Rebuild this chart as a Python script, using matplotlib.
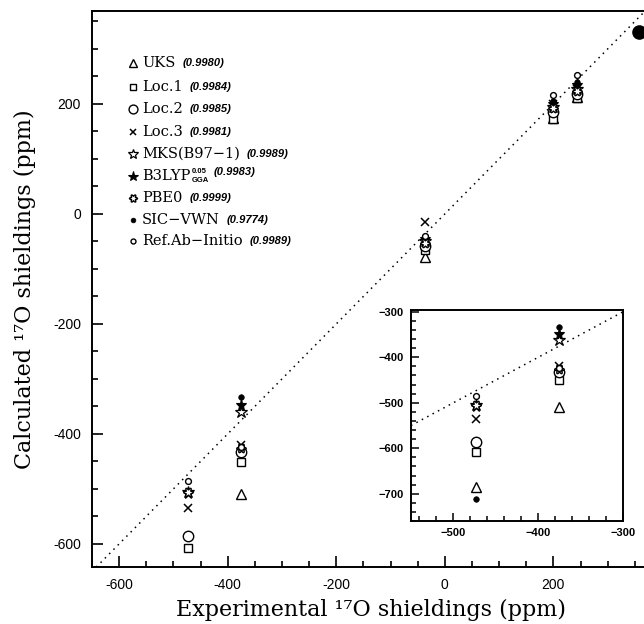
#!/usr/bin/env python3
"""Calculated vs experimental 17O shieldings, with inset of the low-field clusters."""

import matplotlib
matplotlib.use("Agg")
import matplotlib.pyplot as plt
import numpy as np
from matplotlib.path import Path
from matplotlib.ticker import FuncFormatter, MultipleLocator

# experimental shieldings (ppm), one per compound
exp_shift = [-473, -375, -37, 200, 243]

series_names = ["UKS", "Loc.1", "Loc.2", "Loc.3", "MKS(B97\u22121)",
                "B3LYP", "PBE0", "SIC\u2212VWN", "Ref.Ab\u2212Initio"]
r2_labels = ["(0.9980)", "(0.9984)", "(0.9985)", "(0.9981)", "(0.9989)",
             "(0.9983)", "(0.9999)", "(0.9774)", "(0.9989)"]

# calculated shieldings (ppm)
uks = [-686, -510, -78, 175, 212]
loc1 = [-608, -451, -65, 172, 210]
loc2 = [-586, -432, -58, 185, 218]
loc3 = [-535, -420, -15, 200, 228]
mks = [-505, -361, -50, 195, 228]
b3lyp = [-508, -348, -45, 200, 235]
pbe0 = [-505, -425, -52, 192, 224]
sic_vwn = [-712, -333, -40, 205, 240]
ref_ab = [-485, -423, -40, 217, 252]
calc = [uks, loc1, loc2, loc3, mks, b3lyp, pbe0, sic_vwn, ref_ab]

# clipped point at the top right corner
extra_x = [358]
extra_y = [331]

W, H = 644, 624

theta = np.linspace(0, 2 * np.pi, 121)
rad = 1.0 + 0.28 * np.cos(6 * theta)
flower = Path(np.column_stack([rad * np.cos(theta), rad * np.sin(theta)]), closed=True)

styles = [
    dict(marker="^", ms=7.0, mfc="white", mec="black", mew=1.0),
    dict(marker="s", ms=5.6, mfc="white", mec="black", mew=1.0),
    dict(marker="o", ms=7.5, mfc="white", mec="black", mew=1.0),
    dict(marker="x", ms=5.6, mec="black", mew=1.1),
    dict(marker="*", ms=8.8, mfc="white", mec="black", mew=0.9),
    dict(marker="*", ms=8.2, mfc="black", mec="black", mew=0.8),
    dict(marker=flower, ms=6.8, mfc="white", mec="black", mew=1.0),
    dict(marker="o", ms=4.0, mfc="black", mec="black", mew=0.5),
    dict(marker="o", ms=4.2, mfc="white", mec="black", mew=1.0),
]


def fig_xy(px, py):
    return px / W, 1.0 - py / H


fig = plt.figure(figsize=(W / 100, H / 100), dpi=100)
ax = fig.add_axes([92 / W, (H - 567) / H, (650 - 92) / W, (567 - 11) / H])

lims = (-650, 378)
ax.plot(lims, lims, color="black", lw=1.1, ls=(0, (1, 3)), zorder=1)
for vals, st in zip(calc, styles):
    ax.plot(exp_shift, vals, ls="none", zorder=3, **st)
ax.plot(extra_x, extra_y, ls="none", marker="o", ms=9.5, color="black", zorder=3)

ax.set_xlim(*lims)
ax.set_ylim(-642, 369)
ax.xaxis.set_major_locator(MultipleLocator(200))
ax.yaxis.set_major_locator(MultipleLocator(200))
ax.xaxis.set_minor_locator(MultipleLocator(50))
ax.yaxis.set_minor_locator(MultipleLocator(50))
hyph = FuncFormatter(lambda v, p: f"{v:.0f}")
ax.xaxis.set_major_formatter(hyph)
ax.yaxis.set_major_formatter(hyph)
ax.tick_params(which="both", direction="in", top=False, right=False, width=1.2)
ax.tick_params(which="major", length=8, labelsize=10, pad=8)
ax.tick_params(which="minor", length=4.5)
for lab in ax.get_xticklabels() + ax.get_yticklabels():
    lab.set_family("Liberation Sans")
for sp in ax.spines.values():
    sp.set_linewidth(1.4)

lab_font = dict(family="DejaVu Serif", fontsize=16)
ax.set_xlabel("Experimental \u00b9\u2077O shieldings (ppm)", labelpad=5, **lab_font)
ax.set_ylabel("Calculated \u00b9\u2077O shieldings (ppm)", labelpad=12, **lab_font)

# legend drawn by hand: marker, serif name, bold italic r-value
row_y = [63, 87, 109, 132, 154, 176, 198, 220, 241]
r2_font = dict(family="Liberation Sans", fontsize=8, style="italic", weight="bold",
               va="center", ha="left", textcoords="offset points")
for name, r2, st, py in zip(series_names, r2_labels, styles, row_y):
    mx, my = fig_xy(133, py)
    leg_st = dict(st)
    leg_st["ms"] = st["ms"] * 0.85
    fig.add_artist(plt.Line2D([mx], [my], ls="none", transform=fig.transFigure, **leg_st))
    tx, ty = fig_xy(142, py)
    t = fig.text(tx, ty, name, family="DejaVu Serif", fontsize=10.5, va="center", ha="left")
    anchor = t
    if name == "B3LYP":
        sup = fig.add_artist(plt.Annotation("0.05", xy=(1, 0.8), xycoords=t, xytext=(1, 0),
                                            textcoords="offset points", fontsize=5.5,
                                            weight="bold", family="Liberation Sans",
                                            va="center", ha="left"))
        fig.add_artist(plt.Annotation("GGA", xy=(1, 0.2), xycoords=t, xytext=(1, 0),
                                      textcoords="offset points", fontsize=5.5,
                                      weight="bold", family="Liberation Sans",
                                      va="center", ha="left"))
        anchor = sup
    fig.add_artist(plt.Annotation(r2, xy=(1, 0.5), xycoords=anchor, xytext=(5, 0),
                                  **r2_font))

# inset
ins = fig.add_axes([411 / W, (H - 521) / H, (623 - 411) / W, (521 - 310) / H])
ins.plot([-550, -296], [-550, -296], color="black", lw=1.1, ls=(0, (1, 3)), zorder=1)
for vals, st in zip(calc, styles):
    ins.plot(exp_shift, vals, ls="none", zorder=3, **st)
ins.set_xlim(-550, -300)
ins.set_ylim(-760, -296)
ins.xaxis.set_major_locator(MultipleLocator(100))
ins.yaxis.set_major_locator(MultipleLocator(100))
ins.xaxis.set_minor_locator(MultipleLocator(20))
ins.yaxis.set_minor_locator(MultipleLocator(20))
minus = FuncFormatter(lambda v, p: f"{v:.0f}".replace("-", "\u2212"))
ins.xaxis.set_major_formatter(minus)
ins.yaxis.set_major_formatter(minus)
ins.tick_params(which="both", direction="in", top=False, right=False, width=1.1)
ins.tick_params(which="major", length=6, labelsize=8, pad=5)
ins.tick_params(which="minor", length=3.5)
for lab in ins.get_xticklabels() + ins.get_yticklabels():
    lab.set_family("Liberation Sans")
    lab.set_weight("bold")
for sp in ins.spines.values():
    sp.set_linewidth(1.4)

fig.savefig("out.png", dpi=100)
